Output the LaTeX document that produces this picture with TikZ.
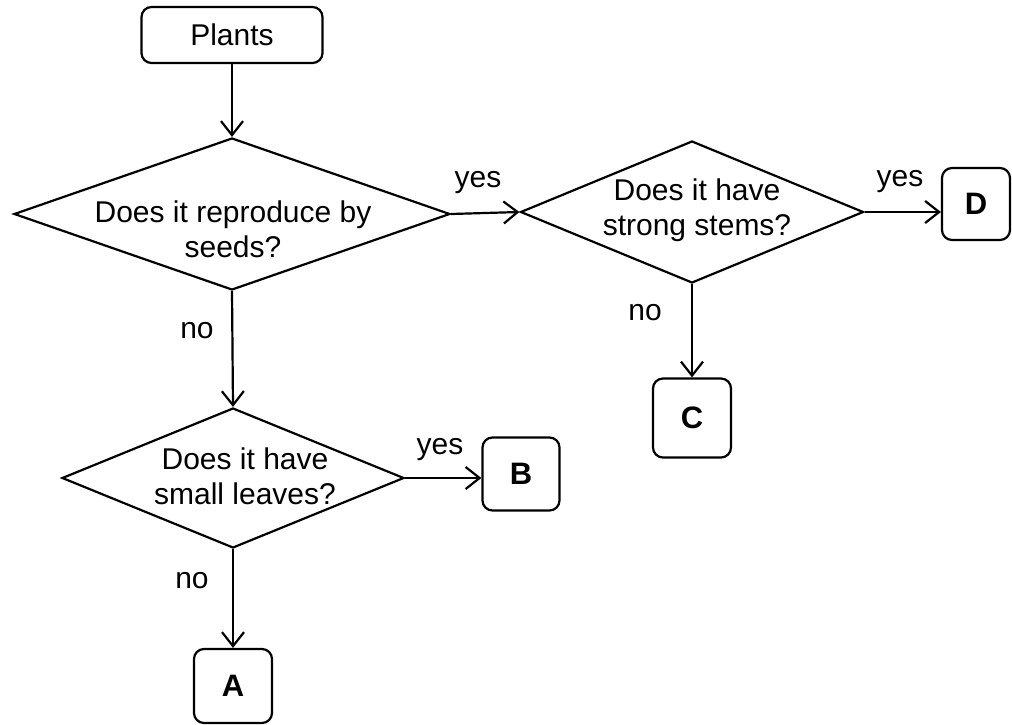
\documentclass[tikz,border=0pt]{standalone}
\usepackage{fontspec}
\setmainfont{Liberation Sans}
\usetikzlibrary{shapes.geometric,arrows.meta}
\tikzset{
  box/.style={draw, line width=2.2pt, rounded corners=10pt, inner sep=0pt, font=\fontsize{30}{36}\selectfont},
  letterbox/.style={box, font=\fontsize{31}{36}\selectfont\bfseries},
  decision/.style={draw, diamond, line width=2.2pt, inner sep=0pt},
  qtext/.style={align=center, font=\fontsize{30}{35}\selectfont, inner sep=0pt},
  lbl/.style={font=\fontsize{30}{36}\selectfont, inner sep=0pt},
  conn/.style={line width=2.2pt, -{Straight Barb[length=14pt,width=22pt,line width=2.2pt]}}
}
\begin{document}
\begin{tikzpicture}[x=1pt,y=-1pt]
\useasboundingbox (0,0) rectangle (1012,725);
% nodes
\node[box, minimum width=181pt, minimum height=56pt] (plants) at (232,35) {Plants};
\node[decision, minimum width=436pt, minimum height=152pt] (d1) at (232,214) {};
\node[qtext] (d1t) at (233,229) {Does it reproduce by\\seeds?};
\node[decision, minimum width=343pt, minimum height=142pt] (d2) at (692,212) {};
\node[qtext] (d2t) at (697,210) {Does it have\\strong stems?};
\node[decision, minimum width=342pt, minimum height=140pt] (d3) at (233,478) {};
\node[qtext] (d3t) at (245,476) {Does it have\\small leaves?};
\node[letterbox, minimum width=68pt, minimum height=72pt] (D) at (976,204) {D};
\node[letterbox, minimum width=78pt, minimum height=79pt] (C) at (692,418) {C};
\node[letterbox, minimum width=77pt, minimum height=73pt] (B) at (521,474) {B};
\node[letterbox, minimum width=78pt, minimum height=74pt] (A) at (233,686) {A};
% labels
\node[lbl] (y1) at (478,183) {yes};
\node[lbl] (y2) at (900,182) {yes};
\node[lbl] (y3) at (440,450) {yes};
\node[lbl] (n1) at (197,331) {no};
\node[lbl] (n2) at (645,313) {no};
\node[lbl] (n3) at (192,581) {no};
% connectors
\draw[conn] (plants.south) -- (d1.north);
\draw[conn] (d1.east) -- (d2.west);
\draw[conn] (d2.east) -- (d2.east -| D.west);
\draw[conn] (d2.south) -- (C.north);
\draw[conn] (d1.south) -- (d3.north);
\draw[conn] (d3.east) -- (d3.east -| B.west);
\draw[conn] (d3.south) -- (A.north);
\end{tikzpicture}
\end{document}
